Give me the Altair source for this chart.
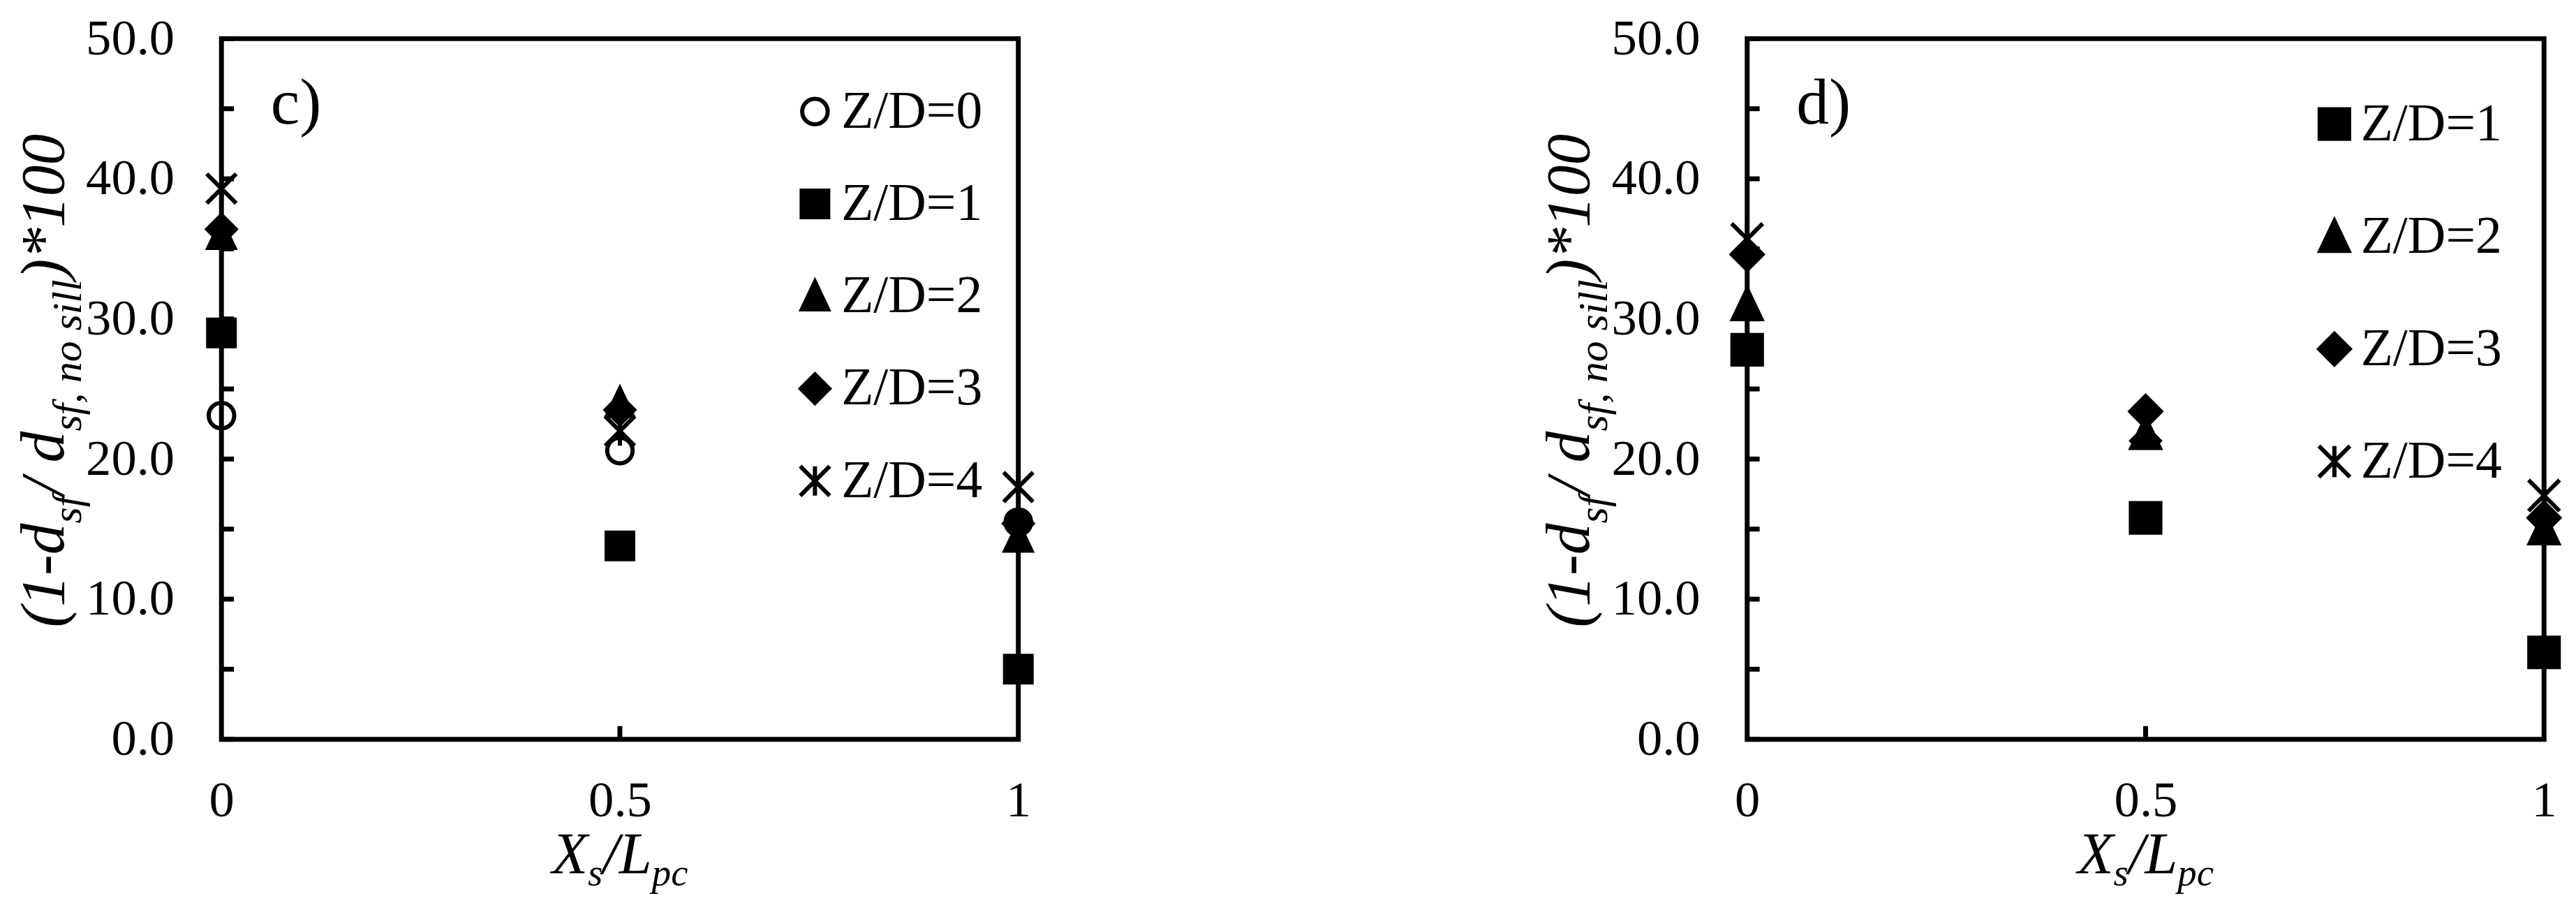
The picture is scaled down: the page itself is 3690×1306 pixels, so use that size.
import altair as alt
import pandas as pd

FONT = "Liberation Serif"
PLOT_W = 1148
PLOT_H = 1009

# ---------------- data ----------------
x_values = [0, 0.5, 1]

c_series = ["Z/D=0", "Z/D=1", "Z/D=2", "Z/D=3", "Z/D=4"]
c_zd0 = [23.1, 20.6, 15.5]
c_zd1 = [29.0, 13.8, 5.0]
c_zd2 = [36.0, 24.0, 14.4]
c_zd3 = [36.4, 23.5, 15.4]
c_zd4 = [39.3, 22.0, 18.0]

d_series = ["Z/D=1", "Z/D=2", "Z/D=3", "Z/D=4"]
d_zd1 = [27.8, 15.8, 6.2]
d_zd2 = [31.0, 21.8, 15.0]
d_zd3 = [34.6, 23.4, 15.8]
d_zd4 = [35.7, 22.3, 17.4]

y_label_values = [0, 10, 20, 30, 40, 50]
y_minor_ticks = [0, 5, 10, 15, 20, 25, 30, 35, 40, 45, 50]
x_label_values = [0, 0.5, 1]
x_inner_ticks = [0.5]

# ---------------- styles ----------------
STAR = "M-1,-1L1,1M-1,1L1,-1M0,-1L0,1"
TRI = "M0,-1.05L-0.95,0.95L0.95,0.95Z"
style = {
    "Z/D=0": ("circle", "transparent", 1350),
    "Z/D=1": ("square", "black", 1800),
    "Z/D=2": (TRI, "black", 2000),
    "Z/D=3": ("diamond", "black", 1850),
    "Z/D=4": (STAR, "black", 2000),
}


def make_df(series, values):
    rows = []
    for k, (s, vals) in enumerate(zip(series, values)):
        for x, y in zip(x_values, vals):
            rows.append({"series": s, "x": x, "y": y, "k": k})
    return pd.DataFrame(rows)


df_c = make_df(c_series, [c_zd0, c_zd1, c_zd2, c_zd3, c_zd4])
df_d = make_df(d_series, [d_zd1, d_zd2, d_zd3, d_zd4])

# Times / Liberation Serif italic advance widths (per 1000 em)
ITAL_W = {"(": 333, ")": 333, "1": 500, "0": 500, "-": 333, "d": 500, "s": 389,
          "f": 278, "/": 278, " ": 250, ",": 250, "n": 500, "o": 500, "i": 278,
          "l": 278, "*": 500, "X": 611, "L": 556, "p": 500, "c": 444}


def tw(text, fs):
    return sum(ITAL_W.get(ch, 500) for ch in text) * fs / 1000.0


Y_MAIN_FS = 90
Y_SUB_FS = 60
X_MAIN_FS = 85
X_SUB_FS = 55

y_title_pieces = [("(1-d", False), ("sf", True), ("/ d", False),
                  ("sf, no sill", True), (")*100", False)]
x_title_pieces = [("X", False), ("s", True), ("/L", False), ("pc", True)]


def one_row():
    return pd.DataFrame({"t": [0]})


def y_title_layers():
    total = sum(tw(t, Y_SUB_FS if sub else Y_MAIN_FS) for t, sub in y_title_pieces)
    pos = PLOT_H / 2 - 12 + total / 2
    base_x = -228
    layers = []
    for t, sub in y_title_pieces:
        fs = Y_SUB_FS if sub else Y_MAIN_FS
        layers.append(
            alt.Chart(one_row()).mark_text(
                font=FONT, fontSize=fs, fontStyle="italic", angle=270,
                align="left", baseline="alphabetic", color="black", text=t
            ).encode(x=alt.value(base_x + (26 if sub else 0)), y=alt.value(pos))
        )
        pos -= tw(t, fs)
    return layers


def x_title_layers():
    total = sum(tw(t, X_SUB_FS if sub else X_MAIN_FS) for t, sub in x_title_pieces)
    pos = PLOT_W / 2 - total / 2
    base_y = 1202
    layers = []
    for t, sub in x_title_pieces:
        fs = X_SUB_FS if sub else X_MAIN_FS
        layers.append(
            alt.Chart(one_row()).mark_text(
                font=FONT, fontSize=fs, fontStyle="italic",
                align="left", baseline="alphabetic", color="black", text=t
            ).encode(x=alt.value(pos), y=alt.value(base_y + (18 if sub else 0)))
        )
        pos += tw(t, fs)
    return layers


def x_axis():
    return alt.Axis(values=x_label_values, format="~g", title=None, labelFlush=False,
                    labelOverlap=False, labelPadding=52, tickSize=0, ticks=False,
                    domain=False, grid=False, labelFont=FONT, labelFontSize=73,
                    labelColor="black")


def y_axis():
    return alt.Axis(values=y_label_values, format=".1f", title=None, labelFlush=False,
                    labelOverlap=False, labelPadding=68, tickSize=0, ticks=False,
                    domain=False, grid=False, labelFont=FONT, labelFontSize=73,
                    labelColor="black")


def panel(df, series, letter, legend_x, legend_y, row_pad):
    xs = alt.Scale(domain=[0, 1], nice=False, zero=False)
    ys = alt.Scale(domain=[0, 50], nice=False)
    legend = alt.Legend(
        orient="none", legendX=legend_x, legendY=legend_y, title=None,
        labelFont=FONT, labelFontSize=76, labelColor="black", labelLimit=0,
        rowPadding=row_pad, labelOffset=0, symbolStrokeWidth=6,
        symbolStrokeColor="black", symbolOpacity=1, padding=0,
    )
    shapes = [style[s][0] for s in series]
    fills = [style[s][1] for s in series]
    sizes = [style[s][2] for s in series]
    strokes = ["black" for _ in series]

    yticks = alt.Chart(pd.DataFrame({"y": y_minor_ticks})).mark_rule(
        color="black", strokeWidth=7
    ).encode(y=alt.Y("y:Q", scale=ys, axis=y_axis()), x=alt.value(0), x2=alt.value(18))

    xticks = alt.Chart(pd.DataFrame({"x": x_inner_ticks})).mark_rule(
        color="black", strokeWidth=7
    ).encode(x=alt.X("x:Q", scale=xs, axis=x_axis()), y=alt.value(PLOT_H), y2=alt.value(PLOT_H - 19))

    points = alt.Chart(df).mark_point(
        filled=True, strokeWidth=6, opacity=1
    ).encode(
        x=alt.X("x:Q", scale=xs, axis=x_axis()),
        y=alt.Y("y:Q", scale=ys, axis=y_axis()),
        shape=alt.Shape("series:N", scale=alt.Scale(domain=series, range=shapes), legend=legend),
        fill=alt.Fill("series:N", scale=alt.Scale(domain=series, range=fills), legend=legend),
        stroke=alt.Stroke("series:N", scale=alt.Scale(domain=series, range=strokes), legend=legend),
        size=alt.Size("series:N", scale=alt.Scale(domain=series, range=sizes), legend=legend),
        order=alt.Order("k:Q"),
    )

    letter_txt = alt.Chart(one_row()).mark_text(
        font=FONT, fontSize=94, align="left", baseline="alphabetic",
        color="black", text=letter
    ).encode(x=alt.value(71), y=alt.value(122))

    return alt.layer(
        yticks, xticks, points, letter_txt, *y_title_layers(), *x_title_layers()
    ).properties(width=PLOT_W, height=PLOT_H)


panel_c = panel(df_c, c_series, "c)", 817, 67, 57)
panel_d = panel(df_d, d_series, "d)", 808, 85, 86)

chart = alt.hconcat(panel_c, panel_d, spacing=709).resolve_scale(
    shape="independent", fill="independent", stroke="independent", size="independent"
).resolve_legend(
    shape="independent", fill="independent", stroke="independent", size="independent"
).properties(
    background="white", padding={"left": 7, "top": 4, "right": 0, "bottom": 0}
).configure_view(
    stroke="black", strokeWidth=7
).configure_axis(
    labelFont=FONT, labelFontSize=73, labelColor="black"
)

chart.save("out.html", embed_options={"renderer": "svg", "actions": False})
